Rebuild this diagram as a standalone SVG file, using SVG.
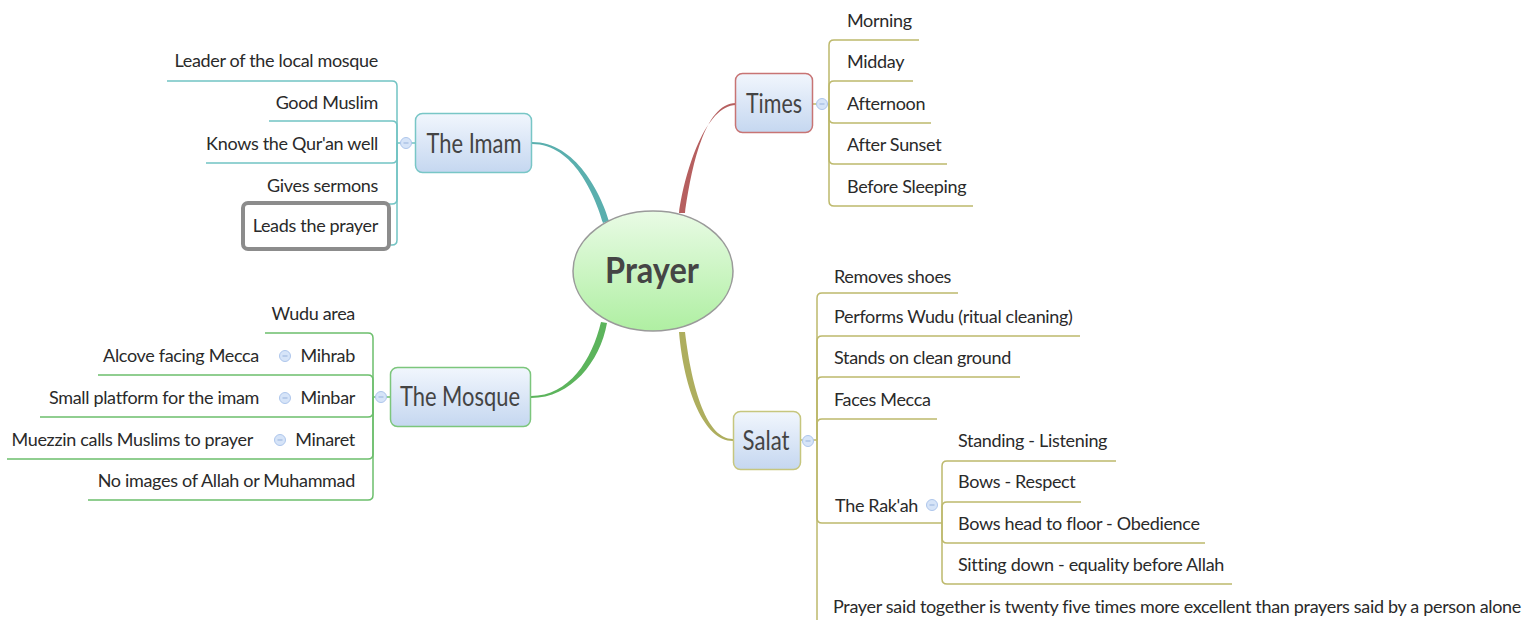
<svg xmlns="http://www.w3.org/2000/svg" width="1539" height="620" viewBox="0 0 1539 620">
<defs>
<linearGradient id="nodeGrad" x1="0" y1="0" x2="0" y2="1">
<stop offset="0" stop-color="#f1f6fd"/>
<stop offset="1" stop-color="#c5d7f0"/>
</linearGradient>
<linearGradient id="ellGrad" x1="0" y1="0" x2="0" y2="1">
<stop offset="0" stop-color="#e9fbe5"/>
<stop offset="1" stop-color="#afefa2"/>
</linearGradient>
<g id="btn">
<circle cx="0" cy="0" r="5.5" fill="#d6e4f8" stroke="#aec6ec" stroke-width="1"/>
<line x1="-2.5" y1="0" x2="2.5" y2="0" stroke="#97b2dc" stroke-width="1"/>
</g>
</defs>
<style>
.t{font-family:Lato,"Open Sans",sans-serif;font-size:18px;letter-spacing:-0.32px;fill:#2a2a2a}
.e{text-anchor:end}
.ttl{font-family:Lato,"Open Sans",sans-serif;font-size:26px;fill:#444;text-anchor:middle}
.root{font-family:Lato,"Open Sans",sans-serif;font-size:36px;font-weight:bold;fill:#454545;text-anchor:middle}
.box{fill:url(#nodeGrad);stroke-width:1.5}
.br{fill:none;stroke-width:1.5}
.teal{stroke:#72c3c3}
.grn{stroke:#6cbf6c}
.olv{stroke:#bdb96c}
</style>

<g id="connectors">
<path d="M532,142 C576,142 601,194 609,221 L603,223 C595,196 574,144 532,144 Z" fill="#5aafae"/>
<path d="M736,103 C704,103 691,170 685,213 L679,213 C685,170 706,105 736,105 Z" fill="#b65f5f"/>
<path d="M531,396 C569,396 592,360 601,322 L607,323 C600,362 571,398 531,398 Z" fill="#5cb45c"/>
<path d="M733,439 C707,439 692,390 685,332 L679,332 C684,390 704,441 733,441 Z" fill="#aeae5e"/>

<g class="br olv">
<path d="M813,104 H829"/>
<path d="M829,104 V45 Q829,40 834,40 H919"/>
<path d="M829,104 V86 Q829,81 834,81 H913"/>
<path d="M829,104 V118 Q829,123 834,123 H931"/>
<path d="M829,104 V159 Q829,164 834,164 H947"/>
<path d="M829,104 V201 Q829,206 834,206 H973"/>
</g>
<g class="br teal">
<path d="M415,143 H397"/>
<path d="M397,143 V86 Q397,81 392,81 H167"/>
<path d="M397,143 V126 Q397,121 392,121 H269"/>
<path d="M397,143 V158 Q397,163 392,163 H206"/>
<path d="M397,143 V199 Q397,204 392,204 H262"/>
<path d="M397,143 V240 Q397,245 392,245 H244"/>
</g>
<g class="br grn">
<path d="M390,397 H373"/>
<path d="M373,397 V338 Q373,333 368,333 H265"/>
<path d="M373,397 V380 Q373,375 368,375 H98"/>
<path d="M373,397 V412 Q373,417 368,417 H40"/>
<path d="M373,397 V454 Q373,459 368,459 H7"/>
<path d="M373,397 V495 Q373,500 368,500 H88"/>
</g>
<g class="br olv">
<path d="M800,440 H817"/>
<path d="M817,440 V298 Q817,293 822,293 H958"/>
<path d="M817,440 V341 Q817,336 822,336 H1080"/>
<path d="M817,440 V382 Q817,377 822,377 H1020"/>
<path d="M817,440 V424 Q817,419 822,419 H937"/>
<path d="M817,440 V518 Q817,523 822,523 H942"/>
<path d="M817,440 V621 Q817,626 822,626 H1525"/>
<path d="M942,523 V466 Q942,461 947,461 H1116"/>
<path d="M942,523 V507 Q942,502 947,502 H1081"/>
<path d="M942,523 V538 Q942,543 947,543 H1205"/>
<path d="M942,523 V579 Q942,584 947,584 H1232"/>
</g>
</g>

<g id="node-prayer">
<ellipse cx="653" cy="271" rx="80" ry="60" fill="url(#ellGrad)" stroke="#9a9a9a" stroke-width="1.5"/>
<text class="root" x="652" y="283" textLength="94" lengthAdjust="spacingAndGlyphs">Prayer</text>
</g>

<g id="node-times">
<rect class="box" x="735.5" y="73.5" width="77" height="59" rx="7" stroke="#c87474"/>
<text class="ttl" x="774" y="113" textLength="56" lengthAdjust="spacingAndGlyphs">Times</text>
<use href="#btn" x="822" y="104"/>
</g>
<g id="node-morning"><text class="t" x="847" y="27">Morning</text></g>
<g id="node-midday"><text class="t" x="847" y="68">Midday</text></g>
<g id="node-afternoon"><text class="t" x="847" y="110">Afternoon</text></g>
<g id="node-aftersunset"><text class="t" x="847" y="151">After Sunset</text></g>
<g id="node-beforesleeping"><text class="t" x="847" y="193">Before Sleeping</text></g>

<g id="node-imam">
<rect class="box" x="415.5" y="113.5" width="116" height="59" rx="7" stroke="#78c6c6"/>
<text class="ttl" x="474" y="153" textLength="95" lengthAdjust="spacingAndGlyphs">The Imam</text>
<use href="#btn" x="406" y="143"/>
</g>
<g id="node-leader"><text class="t e" x="378" y="67">Leader of the local mosque</text></g>
<g id="node-goodmuslim"><text class="t e" x="378" y="109">Good Muslim</text></g>
<g id="node-knows"><text class="t e" x="378" y="150">Knows the Qur'an well</text></g>
<g id="node-sermons"><text class="t e" x="378" y="192">Gives sermons</text></g>
<g id="node-leads">
<rect x="243" y="203" width="146" height="46" rx="5" fill="#fff" stroke="#8c8c8c" stroke-width="4"/>
<text class="t e" x="378" y="232">Leads the prayer</text>
</g>

<g id="node-mosque">
<rect class="box" x="390.5" y="367.5" width="140" height="59" rx="7" stroke="#7cc67c"/>
<text class="ttl" x="460" y="406" textLength="120" lengthAdjust="spacingAndGlyphs">The Mosque</text>
<use href="#btn" x="381" y="397"/>
</g>
<g id="node-wudu"><text class="t e" x="355" y="320">Wudu area</text></g>
<g id="node-mihrab"><text class="t e" x="355" y="362">Mihrab</text><use href="#btn" x="285" y="356"/></g>
<g id="node-alcove"><text class="t e" x="259" y="362">Alcove facing Mecca</text></g>
<g id="node-minbar"><text class="t e" x="355" y="404">Minbar</text><use href="#btn" x="285" y="398"/></g>
<g id="node-platform"><text class="t e" x="259" y="404">Small platform for the imam</text></g>
<g id="node-minaret"><text class="t e" x="355" y="446">Minaret</text><use href="#btn" x="280" y="440"/></g>
<g id="node-muezzin"><text class="t e" x="253" y="446">Muezzin calls Muslims to prayer</text></g>
<g id="node-noimages"><text class="t e" x="355" y="487">No images of Allah or Muhammad</text></g>

<g id="node-salat">
<rect class="box" x="733.5" y="411.5" width="67" height="58" rx="7" stroke="#c6c67e"/>
<text class="ttl" x="766" y="450" textLength="47" lengthAdjust="spacingAndGlyphs">Salat</text>
<use href="#btn" x="808" y="441"/>
</g>
<g id="node-shoes"><text class="t" x="834" y="283">Removes shoes</text></g>
<g id="node-performswudu"><text class="t" x="834" y="323">Performs Wudu (ritual cleaning)</text></g>
<g id="node-stands"><text class="t" x="834" y="364">Stands on clean ground</text></g>
<g id="node-faces"><text class="t" x="834" y="406">Faces Mecca</text></g>
<g id="node-rakah"><text class="t" x="835" y="512">The Rak'ah</text><use href="#btn" x="932" y="505"/></g>
<g id="node-standing"><text class="t" x="958" y="447">Standing - Listening</text></g>
<g id="node-bows"><text class="t" x="958" y="488">Bows - Respect</text></g>
<g id="node-bowshead"><text class="t" x="958" y="530">Bows head to floor - Obedience</text></g>
<g id="node-sitting"><text class="t" x="958" y="571">Sitting down - equality before Allah</text></g>
<g id="node-together"><text class="t" x="833" y="613" textLength="688" lengthAdjust="spacingAndGlyphs">Prayer said together is twenty five times more excellent than prayers said by a person alone</text></g>
</svg>
